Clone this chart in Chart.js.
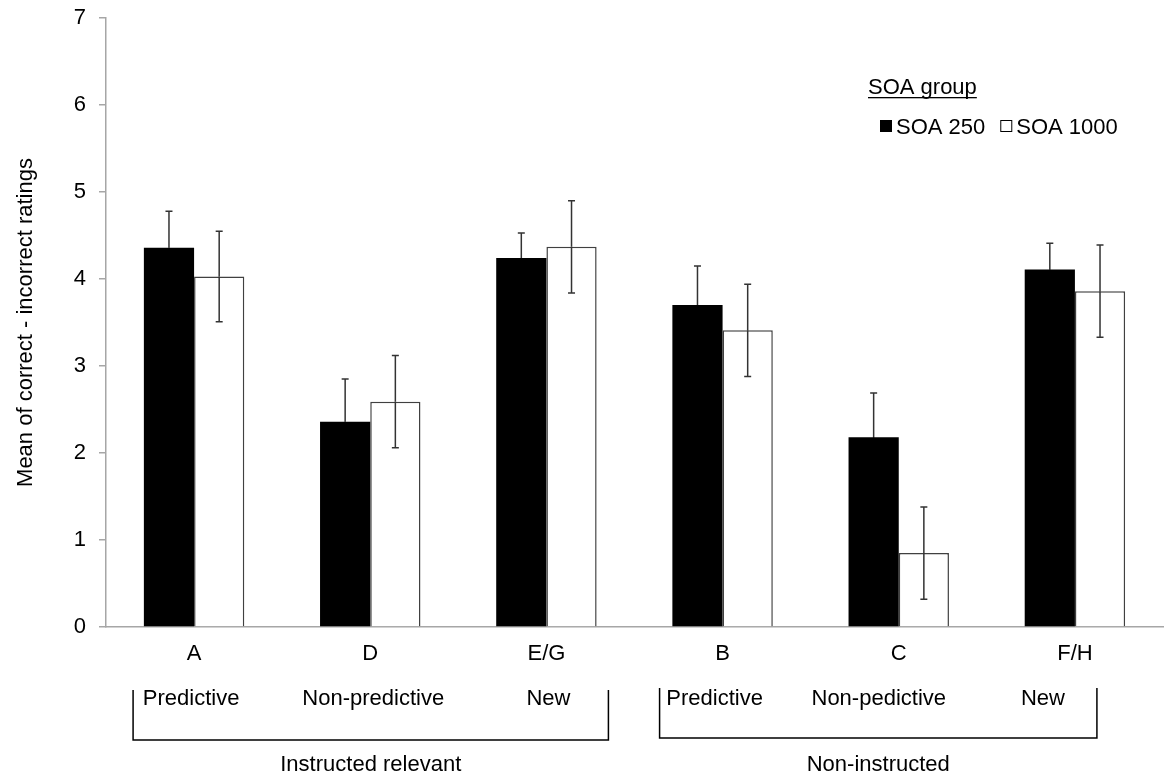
<!DOCTYPE html>
<html>
<head>
<meta charset="utf-8">
<script src="https://cdn.jsdelivr.net/npm/chart.js"></script>
<style>
    body { margin: 0; background: #fff; }
    canvas { display: block; }
</style>
</head>
<body>
<canvas id="grafico" width="1168" height="776"></canvas>
<script>
// ==========================
// DADOS
// ==========================
const categorias = ["A", "D", "E/G", "B", "C", "F/H"];
const subRotulos = ["Predictive", "Non-predictive", "New", "Predictive", "Non-pedictive", "New"];
const grupos = ["Instructed relevant", "Non-instructed"];

const soa250 = [4.36, 2.36, 4.24, 3.70, 2.18, 4.11];
const soa1000 = [4.03, 2.59, 4.37, 3.41, 0.85, 3.86];
const erro250 = [0.42, 0.49, 0.29, 0.45, 0.51, 0.30];
const erro1000 = [0.52, 0.53, 0.53, 0.53, 0.53, 0.53];

const FONTE = "'Liberation Sans', Arial, sans-serif";

// ==========================
// BARRAS DE ERRO
// ==========================
const barrasErro = {
    id: "barrasErro",
    afterDatasetsDraw(chart) {
        const ctx = chart.ctx;
        const y = chart.scales.y;
        ctx.save();
        ctx.lineWidth = 1.5;
        chart.data.datasets.forEach((ds, i) => {
            const meta = chart.getDatasetMeta(i);
            meta.data.forEach((bar, j) => {
                const v = ds.data[j];
                const e = ds.erros[j];
                const topo = y.getPixelForValue(v + e);
                const base = y.getPixelForValue(v - e);
                ctx.strokeStyle = "#333";
                ctx.beginPath();
                ctx.moveTo(bar.x, topo);
                ctx.lineTo(bar.x, bar.y);
                ctx.moveTo(bar.x - 3.5, topo);
                ctx.lineTo(bar.x + 3.5, topo);
                ctx.stroke();
                // parte de baixo (some dentro da barra preta)
                ctx.strokeStyle = i === 0 ? "#000" : "#333";
                ctx.beginPath();
                ctx.moveTo(bar.x, bar.y);
                ctx.lineTo(bar.x, base);
                ctx.moveTo(bar.x - 3.5, base);
                ctx.lineTo(bar.x + 3.5, base);
                ctx.stroke();
            });
        });
        ctx.restore();
    }
};

// ==========================
// LEGENDA + COLCHETES
// ==========================
const extras = {
    id: "extras",
    afterDraw(chart) {
        const ctx = chart.ctx;
        const x = chart.scales.x;
        const area = chart.chartArea;
        ctx.save();
        ctx.fillStyle = "#000";
        ctx.font = "22px " + FONTE;
        ctx.textBaseline = "alphabetic";

        // legenda
        const lx = area.right - 295;
        ctx.textAlign = "left";
        ctx.fillText("SOA group", lx, 94);
        const w = ctx.measureText("SOA group").width;
        ctx.fillRect(lx, 97, w, 1.3);

        let px = lx + 12;
        chart.data.datasets.forEach(ds => {
            ctx.fillStyle = ds.backgroundColor;
            ctx.fillRect(px, 120, 12, 12);
            ctx.strokeStyle = "#000";
            ctx.lineWidth = 1;
            ctx.strokeRect(px + 0.5, 120.5, 11, 11);
            ctx.fillStyle = "#000";
            ctx.fillText(ds.label, px + 16, 134);
            px += 16 + ctx.measureText(ds.label).width + 15;
        });

        // sub-rótulos
        const ajuste = [-3, 3, 2, -8, -20, -32];
        ctx.textAlign = "center";
        subRotulos.forEach((t, i) => {
            ctx.fillText(t, x.getPixelForValue(i) + ajuste[i], 705);
        });

        // colchetes
        const colchetes = [
            [x.getPixelForValue(0) - 61, x.getPixelForValue(2) + 62, 690, 740],
            [x.getPixelForValue(3) - 63, x.getPixelForValue(5) + 22, 688, 738]
        ];
        ctx.strokeStyle = "#000";
        ctx.lineWidth = 1.5;
        colchetes.forEach((c, i) => {
            ctx.beginPath();
            ctx.moveTo(c[0], c[2]);
            ctx.lineTo(c[0], c[3]);
            ctx.lineTo(c[1], c[3]);
            ctx.lineTo(c[1], c[2]);
            ctx.stroke();
            ctx.fillText(grupos[i], (c[0] + c[1]) / 2, 771);
        });
        ctx.restore();
    }
};

// ==========================
// GRAFICO
// ==========================
const grafico = new Chart(document.getElementById("grafico"), {
    type: "bar",
    data: {
        labels: categorias,
        datasets: [
            {
                label: "SOA 250",
                data: soa250,
                erros: erro250,
                backgroundColor: "#000",
                borderColor: "#000",
                borderWidth: 0
            },
            {
                label: "SOA 1000",
                data: soa1000,
                erros: erro1000,
                backgroundColor: "#fff",
                borderColor: "#404040",
                borderWidth: 1.5
            }
        ]
    },
    options: {
        responsive: false,
        animation: false,
        layout: { padding: { top: 18, right: 5, left: 0, bottom: 0 } },
        datasets: {
            bar: { categoryPercentage: 0.57, barPercentage: 1.0 }
        },
        plugins: {
            legend: { display: false },
            tooltip: { enabled: false }
        },
        scales: {
            x: {
                grid: { display: false, drawTicks: false },
                border: { color: "#a6a6a6", width: 1.5 },
                ticks: {
                    color: "#000",
                    padding: 14,
                    font: { family: FONTE, size: 22 }
                },
                afterFit: s => { s.height = 149; }
            },
            y: {
                min: 0,
                max: 7,
                grid: { drawOnChartArea: false, tickLength: 7, color: "#a6a6a6", lineWidth: 1.5 },
                border: { color: "#a6a6a6", width: 1.5 },
                ticks: {
                    stepSize: 1,
                    color: "#000",
                    padding: 13,
                    font: { family: FONTE, size: 22 }
                },
                title: {
                    display: true,
                    text: "Mean of correct - incorrect ratings",
                    color: "#000",
                    padding: { top: 13, bottom: 0 },
                    font: { family: FONTE, size: 22 }
                },
                afterFit: s => {
                    s.width = 106;
                    s.paddingTop = 0;
                    s.paddingBottom = 0;
                }
            }
        }
    },
    plugins: [barrasErro, extras]
});
</script>
</body>
</html>
